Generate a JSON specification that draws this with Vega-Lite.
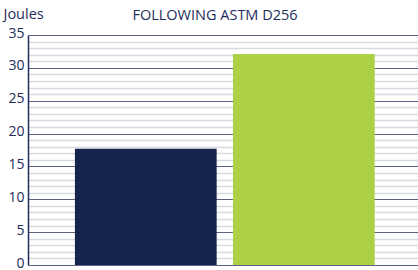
{
  "$schema": "https://vega.github.io/schema/vega-lite/v6.json",
  "width": 390,
  "height": 230,
  "autosize": "none",
  "padding": {"left": 28, "top": 35, "right": 0, "bottom": 5},
  "background": "white",
  "title": {
    "text": "FOLLOWING ASTM D256",
    "anchor": "middle",
    "frame": "group",
    "font": "Open Sans",
    "fontSize": 14.5,
    "fontWeight": "normal",
    "color": "#1e2d5a",
    "baseline": "alphabetic",
    "offset": -28,
    "dx": -8
  },
  "data": {
    "values": [
      {"sample": "A", "joules": 17.7},
      {"sample": "B", "joules": 32.1}
    ]
  },
  "mark": {"type": "bar"},
  "encoding": {
    "x": {
      "field": "sample",
      "type": "nominal",
      "scale": {"paddingInner": 0.103, "paddingOuter": 0.2855, "align": 0.52},
      "axis": null
    },
    "y": {
      "field": "joules",
      "type": "quantitative",
      "scale": {"domain": [0, 35], "nice": false},
      "axis": {
        "values": [0,1,2,3,4,5,6,7,8,9,10,11,12,13,14,15,16,17,18,19,20,21,22,23,24,25,26,27,28,29,30,31,32,33,34,35],
        "labelExpr": "datum.value % 5 === 0 ? datum.label : ''",
        "ticks": false,
        "labelPadding": 4,
        "labelFont": "Open Sans",
        "labelFontSize": 14,
        "labelColor": "#1e2d5a",
        "labelBaseline": "alphabetic",
        "labelOffset": 2,
        "domainColor": "#1e2d5a",
        "domainWidth": 1.5,
        "grid": true,
        "gridColor": {"condition": {"test": "datum.value % 5 === 0", "value": "#5a6385"}, "value": "#d8d9e1"},
        "gridWidth": {"condition": {"test": "datum.value % 5 === 0", "value": 1}, "value": 1.5},
        "title": "Joules",
        "titleAngle": 0,
        "titleAlign": "left",
        "titleBaseline": "alphabetic",
        "titleX": -25,
        "titleY": -17,
        "titleFont": "Open Sans",
        "titleFontSize": 14.5,
        "titleFontWeight": "normal",
        "titleColor": "#1e2d5a"
      }
    },
    "color": {
      "field": "sample",
      "type": "nominal",
      "scale": {"domain": ["A", "B"], "range": ["#16244d", "#acd046"]},
      "legend": null
    }
  },
  "config": {"view": {"stroke": null}}
}
